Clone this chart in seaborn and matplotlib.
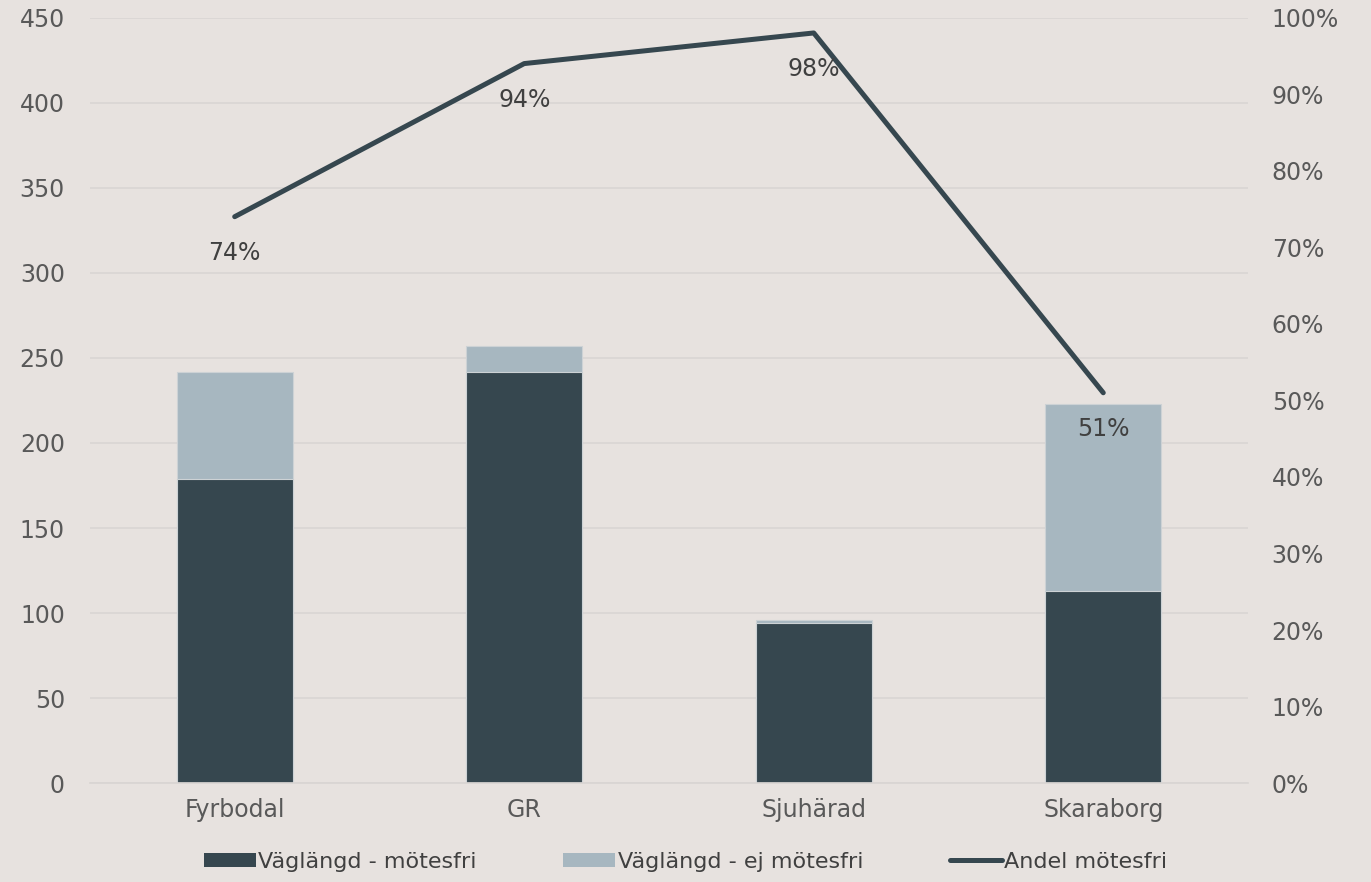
import numpy as np
import pandas as pd
import seaborn as sns
import matplotlib.pyplot as plt
from matplotlib.patches import Patch
from matplotlib.lines import Line2D
from matplotlib.ticker import PercentFormatter

regioner = ["Fyrbodal", "GR", "Sjuhärad", "Skaraborg"]
motesfri = [179, 242, 94, 113]
ej_motesfri = [63, 15, 2, 110]
andel = [0.74, 0.94, 0.98, 0.51]

bg = "#e7e2df"
dark = "#36474f"
light = "#a7b7c0"
txt = "#595959"
fs = 17

df = pd.DataFrame({"region": regioner, "motesfri": motesfri, "ej": ej_motesfri})
df["total"] = df["motesfri"] + df["ej"]

sns.set_theme(style="white")
plt.rcParams["font.family"] = ["DejaVu Sans"]

fig = plt.figure(figsize=(13.71, 8.82), dpi=100, facecolor=bg)
ax = fig.add_axes([0.0656, 0.112, 0.8447, 0.868])
ax.set_facecolor(bg)

# stacked bars: total in light, bottom part drawn over it in dark
sns.barplot(data=df, x="region", y="total", color=light, width=0.4, ax=ax,
            edgecolor="#cdd2d5", linewidth=0.8, saturation=1)
sns.barplot(data=df, x="region", y="motesfri", color=dark, width=0.4, ax=ax,
            edgecolor="#cdd2d5", linewidth=0.8, saturation=1)

ax.set_ylim(0, 450)
ax.set_yticks(np.arange(0, 451, 50))
ax.set_xlim(-0.5, 3.5)
ax.grid(axis="y", color="#d9d5d3", linewidth=1.2)
ax.set_axisbelow(True)
ax.set_xlabel("")
ax.set_ylabel("")
for s in ax.spines.values():
    s.set_visible(False)
ax.spines["bottom"].set_visible(True)
ax.spines["bottom"].set_color("#d9d5d3")
ax.tick_params(axis="both", colors=txt, labelsize=fs, length=0)
ax.tick_params(axis="y", pad=18)
ax.tick_params(axis="x", pad=11)

ax2 = ax.twinx()
sns.lineplot(x=np.arange(len(regioner)), y=andel, ax=ax2, color=dark, linewidth=3.6)
ax2.set_ylim(0, 1)
ax2.set_yticks(np.arange(0, 1.01, 0.1))
ax2.yaxis.set_major_formatter(PercentFormatter(1.0, decimals=0))
ax2.tick_params(axis="y", colors=txt, labelsize=fs, length=0, pad=17)
for s in ax2.spines.values():
    s.set_visible(False)
ax2.grid(False)
for i, v in enumerate(andel):
    ax2.annotate(f"{v:.0%}", (i, v), xytext=(0, -26), textcoords="offset points",
                 ha="center", va="center", fontsize=fs, color="#404040")

handles = [Patch(facecolor=dark, edgecolor="none"),
           Patch(facecolor=light, edgecolor="none"),
           Line2D([], [], color=dark, linewidth=3.6)]
labels = ["Väglängd - mötesfri", "Väglängd - ej mötesfri", "Andel mötesfri"]
fig.legend(handles, labels, loc="center", bbox_to_anchor=(0.5, 0.023), ncol=3,
           frameon=False, fontsize=16, handlelength=2.35, handleheight=0.6,
           handletextpad=0.1, columnspacing=3.9, labelcolor="#404040")

fig.savefig("out.png", dpi=100, facecolor=bg)
